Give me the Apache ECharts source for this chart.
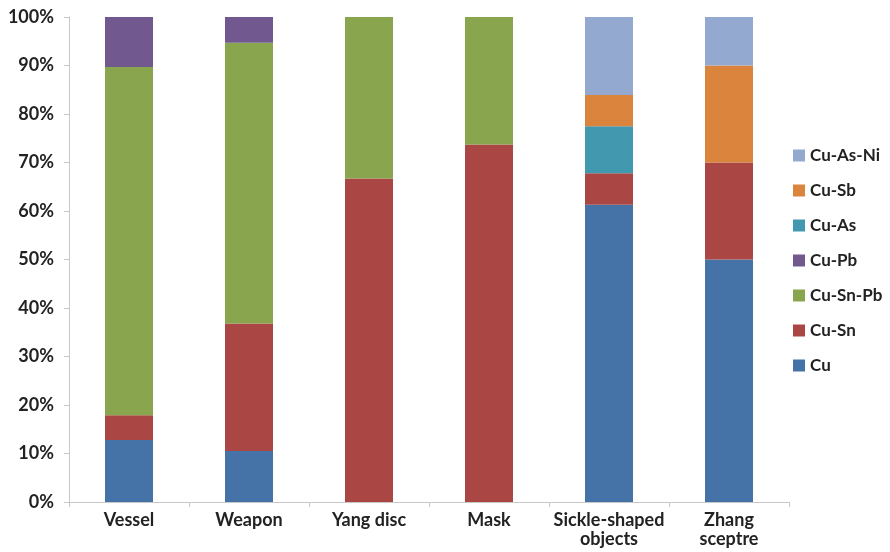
<!DOCTYPE html>
<html><head><meta charset="utf-8">
<script src="https://cdn.jsdelivr.net/npm/echarts@6/dist/echarts.min.js"></script>
<style>html,body{margin:0;padding:0;background:#fff}#c{width:890px;height:552px}</style>
</head><body><div id="c"></div>
<script>
const categories = ['Vessel', 'Weapon', 'Yang disc', 'Mask', 'Sickle-shaped\nobjects', 'Zhang\nsceptre'];
const cu      = [12.8, 10.5, 0, 0, 61.3, 50];
const cuSn    = [5.1, 26.3, 66.7, 73.7, 6.5, 20];
const cuSnPb  = [71.8, 57.9, 33.3, 26.3, 0, 0];
const cuPb    = [10.3, 5.3, 0, 0, 0, 0];
const cuAs    = [0, 0, 0, 0, 9.7, 0];
const cuSb    = [0, 0, 0, 0, 6.4, 20];
const cuAsNi  = [0, 0, 0, 0, 16.1, 10];
const yTicks = [0, 10, 20, 30, 40, 50, 60, 70, 80, 90, 100];

const seriesDefs = [
  ['Cu', cu, '#4572A7'],
  ['Cu-Sn', cuSn, '#AA4643'],
  ['Cu-Sn-Pb', cuSnPb, '#89A54E'],
  ['Cu-Pb', cuPb, '#71588F'],
  ['Cu-As', cuAs, '#4198AF'],
  ['Cu-Sb', cuSb, '#DB843D'],
  ['Cu-As-Ni', cuAsNi, '#93A9CF']
];
const font = 'Lato, "Open Sans", sans-serif';
const chart = echarts.init(document.getElementById('c'));
chart.setOption({
  animation: false,
  grid: {left: 69, right: 101, top: 17, bottom: 50},
  legend: {
    orient: 'vertical', left: 788, top: 142,
    itemWidth: 12, itemHeight: 12, itemGap: 18,
    icon: 'rect',
    data: seriesDefs.map(s => s[0]).reverse(),
    textStyle: {fontFamily: font, fontWeight: 'bold', fontSize: 17, color: '#222'}
  },
  xAxis: {
    type: 'category', data: categories,
    axisLine: {lineStyle: {color: '#c8c8c8'}},
    axisTick: {show: true, length: 5, lineStyle: {color: '#c8c8c8'}},
    axisLabel: {interval: 0, fontFamily: font, fontWeight: 'bold', fontSize: 18, color: '#222', margin: 9, lineHeight: 19}
  },
  yAxis: {
    type: 'value', min: yTicks[0], max: yTicks[yTicks.length - 1], interval: 10,
    splitLine: {show: false},
    axisLine: {show: true, lineStyle: {color: '#c8c8c8'}},
    axisTick: {show: true, length: 5, lineStyle: {color: '#c8c8c8'}},
    axisLabel: {formatter: '{value}%', fontFamily: font, fontWeight: 'bold', fontSize: 18, color: '#222', margin: 15}
  },
  series: seriesDefs.map(([name, data, color]) => ({
    name, type: 'bar', stack: 'total', data, barWidth: '40%',
    itemStyle: {color}
  }))
});
</script></body></html>
